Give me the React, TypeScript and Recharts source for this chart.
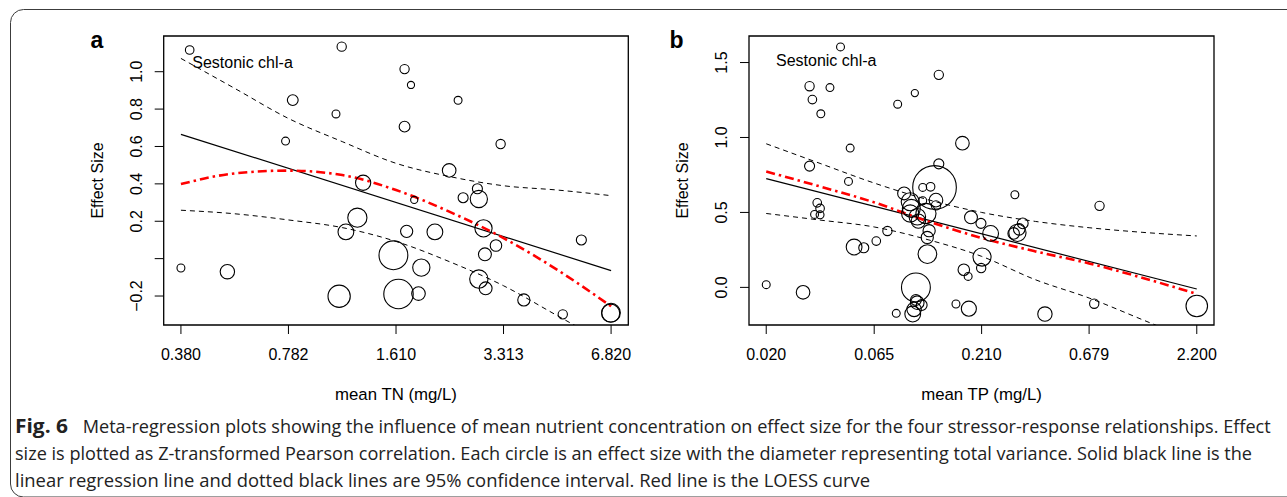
import React from 'react';
import { ComposedChart, Scatter, Line, XAxis, YAxis, ZAxis, ReferenceArea } from 'recharts';

const FONT = '"Liberation Sans", Arial, Helvetica, sans-serif';
const CAPTION_FONT = '"Open Sans", "Noto Sans", sans-serif';

// ---------- panel a: effect size vs mean TN ----------
const tnTicks = [0.38, 0.782, 1.61, 3.313, 6.82];
const tnDomain = [0.3385, 7.655];
const esTicksA = [-0.2, 0, 0.2, 0.4, 0.6, 0.8, 1.0];
const esDomainA = [-0.355, 1.191];

const tnStudyX = [
  0.403, 1.118, 1.705, 1.78, 2.442, 0.805, 1.076, 1.705, 0.767, 3.249,
  2.3, 1.291, 2.78, 2.526, 2.807, 1.819, 1.242, 2.896, 1.15, 1.729,
  2.09, 5.586, 3.149, 2.924, 1.582, 0.38, 0.519, 1.908, 2.807, 2.938,
  1.099, 1.637, 1.872, 3.797, 4.931, 6.816, 6.8,
];
const tnStudyEffect = [
  1.116, 1.134, 1.014, 0.929, 0.847, 0.848, 0.774, 0.706, 0.629, 0.613,
  0.472, 0.406, 0.374, 0.326, 0.319, 0.314, 0.219, 0.162, 0.143, 0.146,
  0.143, 0.1, 0.07, 0.023, 0.018, -0.05, -0.07, -0.048, -0.109, -0.159,
  -0.201, -0.189, -0.187, -0.221, -0.298, -0.289, -0.292,
];
const tnStudyVariance = [
  4.6, 5.4, 5.4, 3.2, 3.9, 7.3, 3.9, 7.3, 3.9, 5.4,
  11.6, 14.5, 6.3, 6.3, 18.6, 3.2, 23, 18.6, 15.6, 9.3,
  15.6, 6.3, 8.3, 10.4, 52, 3.9, 12.9, 18.6, 21, 10.4,
  31, 54.2, 11.6, 9.3, 5.4, 21.8, 20.5,
];

const tnCurveX = [0.38, 0.545, 0.782, 1.122, 1.61, 2.31, 3.313, 4.753, 6.82];
const tnUpper = [1.071, 0.911, 0.75, 0.626, 0.51, 0.439, 0.39, 0.367, 0.337];
const tnLower = [0.259, 0.24, 0.207, 0.166, 0.092, -0.017, -0.145, -0.305, -0.465];
const tnLoess = [0.399, 0.456, 0.471, 0.447, 0.367, 0.25, 0.11, -0.06, -0.255];
const tnFitX = [0.38, 6.82];
const tnFit = [0.665, -0.064];

// ---------- panel b: effect size vs mean TP ----------
const tpTicks = [0.02, 0.065, 0.21, 0.679, 2.2];
const tpDomain = [0.01657, 2.655];
const esTicksB = [0, 0.5, 1.0, 1.5];
const esDomainB = [-0.251, 1.677];

const tpStudyX = [
  0.045, 0.1316, 0.0321, 0.0401, 0.1013, 0.0331, 0.084, 0.0363, 0.05, 0.1703,
  0.1316, 0.0321, 0.0491, 0.1256, 0.1104, 0.1203, 0.302, 0.0901, 0.761, 0.1276,
  0.1104, 0.1276, 0.0349, 0.036, 0.0339, 0.036, 0.0963, 0.0975, 0.0963, 0.1041,
  0.1144, 0.1053, 0.187, 0.2085, 0.2317, 0.3291, 0.298, 0.3105, 0.3165, 0.1184,
  0.116, 0.0751, 0.0665, 0.0522, 0.058, 0.1162, 0.211, 0.209, 0.1729, 0.1813,
  0.02, 0.0299, 0.1025, 0.1025, 0.104, 0.1092, 0.1005, 0.099, 0.0827, 0.1587,
  0.1827, 0.4192, 0.718, 2.2,
];
const tpStudyEffect = [
  1.604, 1.418, 1.342, 1.333, 1.296, 1.253, 1.222, 1.158, 0.929, 0.962,
  0.824, 0.809, 0.707, 0.667, 0.667, 0.671, 0.618, 0.627, 0.544, 0.582,
  0.578, 0.547, 0.564, 0.527, 0.487, 0.484, 0.571, 0.527, 0.493, 0.471,
  0.493, 0.442, 0.467, 0.427, 0.36, 0.427, 0.36, 0.364, 0.387, 0.378,
  0.333, 0.376, 0.309, 0.269, 0.264, 0.222, 0.202, 0.129, 0.118, 0.073,
  0.018, -0.033, 0, -0.084, -0.102, -0.118, -0.147, -0.178, -0.173, -0.111,
  -0.142, -0.178, -0.109, -0.124,
];
const tpStudyVariance = [
  3.9, 5.4, 5.4, 3.9, 3.2, 4.6, 3.9, 3.9, 3.9, 11.6,
  6.3, 6.3, 3.9, 119, 3.9, 4.6, 3.9, 10.4, 5.4, 11.6,
  3.9, 5.4, 4.6, 4.6, 3.9, 3.9, 20.2, 20.2, 18.6, 17.1,
  25.3, 12.9, 10.4, 6.3, 15.6, 7.3, 8.3, 18.6, 8.3, 9.3,
  9.3, 5.4, 4.6, 15.6, 6.3, 21.8, 20.5, 5.4, 8.3, 3.9,
  3.9, 11.6, 52, 7.3, 11.6, 7.3, 12.9, 15.6, 3.9, 3.9,
  14.2, 12.9, 5.4, 29,
];

const tpCurveX = [0.02, 0.036, 0.065, 0.117, 0.21, 0.378, 0.679, 1.222, 2.2];
const tpUpper = [0.958, 0.827, 0.696, 0.585, 0.5, 0.44, 0.398, 0.367, 0.343];
const tpLower = [0.493, 0.449, 0.403, 0.318, 0.207, 0.051, -0.071, -0.217, -0.364];
const tpLoess = [0.773, 0.673, 0.567, 0.44, 0.33, 0.24, 0.16, 0.063, -0.044];
const tpFitX = [0.02, 2.2];
const tpFit = [0.725, -0.011];

const captionLines = [
  'Meta-regression plots showing the influence of mean nutrient concentration on effect size for the four stressor-response relationships. Effect',
  'size is plotted as Z-transformed Pearson correlation. Each circle is an effect size with the diameter representing total variance. Solid black line is the',
  'linear regression line and dotted black lines are 95% confidence interval. Red line is the LOESS curve',
];

const toRows = (xs: number[], ys: number[]) => xs.map((x, i) => ({ x, y: ys[i] }));
const toPoints = (xs: number[], ys: number[], vs: number[]) =>
  xs.map((x, i) => ({ x, y: ys[i], v: vs[i] }));

// layout (page pixels)
const CHART_H = 420;
const PLOT_TOP = 36;
const PLOT_BOTTOM = 325;
const Y_AXIS_W = 60;
const X_AXIS_H = 50;

const renderRing = (p: any) => {
  const r = p.size != null ? Math.sqrt(p.size / Math.PI) : (p.width ?? 8) / 2;
  return <circle cx={p.cx} cy={p.cy} r={r} fill="none" stroke="#000" strokeWidth={1.1} />;
};

const renderXTick = (p: any) => (
  <text x={p.x} y={p.y + 26} textAnchor="middle" fontFamily={FONT} fontSize={16} fill="#000">
    {Number(p.payload.value).toFixed(3)}
  </text>
);

const makeYTick = (hideZero: boolean) => (p: any) => {
  const v = Number(p.payload.value);
  const label = hideZero && v === 0 ? '' : v.toFixed(1).replace('-', '\u2212');
  const bx = p.x - 12.5;
  return (
    <text x={bx} y={p.y} transform={`rotate(-90 ${bx} ${p.y})`} textAnchor="middle"
      fontFamily={FONT} fontSize={16} fill="#000">
      {label}
    </text>
  );
};

interface PanelProps {
  left: number;
  width: number;
  plotLeft: number;
  plotRight: number;
  xTicks: number[];
  xDomain: number[];
  yTicks: number[];
  yDomain: number[];
  hideZero: boolean;
  points: { x: number; y: number; v: number }[];
  fit: { x: number; y: number }[];
  upper: { x: number; y: number }[];
  lower: { x: number; y: number }[];
  loess: { x: number; y: number }[];
}

function MetaPanel(props: PanelProps) {
  const { left, width, plotLeft, plotRight, xTicks, xDomain, yTicks, yDomain } = props;
  const margin = {
    top: PLOT_TOP,
    left: plotLeft - left - Y_AXIS_W,
    right: left + width - plotRight,
    bottom: CHART_H - PLOT_BOTTOM - X_AXIS_H,
  };
  return (
    <div style={{ position: 'absolute', left, top: 0 }}>
      <ComposedChart width={width} height={CHART_H} margin={margin}>
        <XAxis type="number" dataKey="x" scale="log" domain={xDomain} allowDataOverflow
          ticks={xTicks} interval={0} axisLine={false} tickLine={{ stroke: '#000', strokeWidth: 1 }}
          tickSize={9} tickMargin={0} height={X_AXIS_H} tick={renderXTick} />
        <YAxis type="number" dataKey="y" domain={yDomain} allowDataOverflow
          ticks={yTicks} interval={0} axisLine={false} tickLine={{ stroke: '#000', strokeWidth: 1 }}
          tickSize={9} tickMargin={0} width={Y_AXIS_W} tick={makeYTick(props.hideZero)} />
        <ZAxis type="number" dataKey="v" domain={[0, 125]} range={[0, 500 * Math.PI]} />
        <ReferenceArea x1={xDomain[0]} x2={xDomain[1]} y1={yDomain[0]} y2={yDomain[1]}
          fill="none" stroke="#000" strokeWidth={1.3} ifOverflow="visible" />
        <Scatter data={props.points} shape={renderRing} isAnimationActive={false} />
        <Line data={props.upper} dataKey="y" type="monotone" stroke="#000" strokeWidth={1}
          strokeDasharray="5 4" dot={false} activeDot={false} isAnimationActive={false} />
        <Line data={props.lower} dataKey="y" type="monotone" stroke="#000" strokeWidth={1}
          strokeDasharray="5 4" dot={false} activeDot={false} isAnimationActive={false} />
        <Line data={props.fit} dataKey="y" type="linear" stroke="#000" strokeWidth={1.2}
          dot={false} activeDot={false} isAnimationActive={false} />
        <Line data={props.loess} dataKey="y" type="monotone" stroke="#ff0000" strokeWidth={2.6}
          strokeDasharray="9 4 2.5 4" dot={false} activeDot={false} isAnimationActive={false} />
      </ComposedChart>
    </div>
  );
}

const A = { left: 0, width: 640, plotLeft: 163.7, plotRight: 628.3 };
const B = { left: 640, width: 590, plotLeft: 749, plotRight: 1214 };

export default function App() {
  const midY = (PLOT_TOP + PLOT_BOTTOM) / 2;
  const txt = { fontFamily: FONT, fill: '#000' };
  const cap = { fontFamily: CAPTION_FONT, fontSize: 18, fill: '#222' };
  return (
    <div style={{ position: 'absolute', left: 0, top: 0, width: 1287, height: 497, background: '#fff', overflow: 'hidden' }}>
      <MetaPanel {...A} xTicks={tnTicks} xDomain={tnDomain} yTicks={esTicksA} yDomain={esDomainA} hideZero
        points={toPoints(tnStudyX, tnStudyEffect, tnStudyVariance)} fit={toRows(tnFitX, tnFit)}
        upper={toRows(tnCurveX, tnUpper)} lower={toRows(tnCurveX, tnLower)} loess={toRows(tnCurveX, tnLoess)} />
      <MetaPanel {...B} xTicks={tpTicks} xDomain={tpDomain} yTicks={esTicksB} yDomain={esDomainB} hideZero={false}
        points={toPoints(tpStudyX, tpStudyEffect, tpStudyVariance)} fit={toRows(tpFitX, tpFit)}
        upper={toRows(tpCurveX, tpUpper)} lower={toRows(tpCurveX, tpLower)} loess={toRows(tpCurveX, tpLoess)} />
      <svg width={1287} height={497} style={{ position: 'absolute', left: 0, top: 0, pointerEvents: 'none' }}>
        <rect x={10.5} y={9.5} width={1300} height={487.5} rx={13} ry={13} fill="none" stroke="#3c3c3c" strokeWidth={1} />

        <text x={90.5} y={48} {...txt} fontSize={23} fontWeight={700}>a</text>
        <text x={669.5} y={48} {...txt} fontSize={23} fontWeight={700}>b</text>
        <text x={192.3} y={68} {...txt} fontSize={16}>Sestonic chl-a</text>
        <text x={776} y={66} {...txt} fontSize={16}>Sestonic chl-a</text>

        {[A, B].map((p, i) => {
          const bx = p.plotLeft - 60.7;
          return (
            <g key={i}>
              <text x={bx} y={midY} transform={`rotate(-90 ${bx} ${midY})`} textAnchor="middle" {...txt} fontSize={16}>
                Effect Size
              </text>
              <text x={(p.plotLeft + p.plotRight) / 2} y={400} textAnchor="middle" {...txt} fontSize={16.8}>
                {i === 0 ? 'mean TN (mg/L)' : 'mean TP (mg/L)'}
              </text>
            </g>
          );
        })}

        <text x={15} y={433} {...cap} fontSize={20} fontWeight={700} textLength={53} lengthAdjust="spacingAndGlyphs">Fig. 6</text>
        <text x={82.7} y={433} {...cap} textLength={1188} lengthAdjust="spacingAndGlyphs">{captionLines[0]}</text>
        <text x={15} y={460} {...cap} textLength={1237} lengthAdjust="spacingAndGlyphs">{captionLines[1]}</text>
        <text x={15} y={487} {...cap} textLength={855} lengthAdjust="spacingAndGlyphs">{captionLines[2]}</text>
      </svg>
    </div>
  );
}
